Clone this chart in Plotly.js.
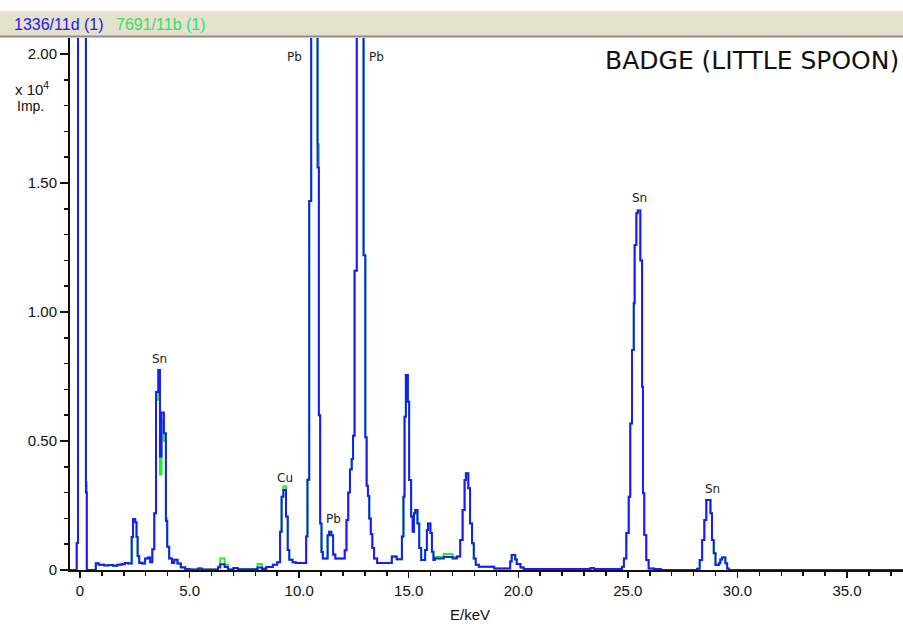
<!DOCTYPE html>
<html>
<head>
<meta charset="utf-8">
<script src="https://cdn.plot.ly/plotly-3.0.1.min.js"></script>
<style>
  html, body { margin: 0; padding: 0; background: #ffffff; }
  #chart { width: 903px; height: 624px; }
</style>
</head>
<body>
<div id="chart"></div>
<script>
// Energy (keV) at the left edge of each step of the spectrum
const energy = [
  -0.46, -0.15, -0.09, 0.27, 0.31, 0.72, 0.85, 1.1, 1.3, 1.5, 1.7, 1.9, 2.05, 2.2,
  2.36, 2.42, 2.52, 2.58, 2.63, 2.7, 2.85, 2.97, 3.1, 3.2, 3.3, 3.39, 3.47, 3.57,
  3.65, 3.72, 3.83, 3.92, 3.98, 4.07, 4.2, 4.3, 4.45, 4.6, 4.8, 5.0, 5.4, 5.55,
  6.3, 6.4, 6.6, 6.75, 7.0, 7.2, 8.1, 8.3, 8.5, 8.8, 9.0, 9.13, 9.2, 9.28, 9.4,
  9.48, 9.55, 9.7, 9.85, 10.32, 10.38, 10.46, 10.55, 10.84, 10.9, 10.96, 11.02,
  11.08, 11.3, 11.37, 11.47, 11.55, 11.65, 12.08, 12.16, 12.24, 12.32, 12.4, 12.46,
  12.53, 12.63, 12.94, 13.02, 13.08, 13.14, 13.2, 13.27, 13.34, 13.42, 13.56, 14.23,
  14.45, 14.69, 14.76, 14.81, 14.87, 14.96, 15.02, 15.11, 15.18, 15.24, 15.3, 15.4,
  15.48, 15.57, 15.75, 15.83, 15.88, 15.99, 16.06, 16.13, 16.2, 16.6, 17.0, 17.2,
  17.35, 17.46, 17.55, 17.61, 17.72, 17.8, 17.89, 17.97, 18.06, 18.2, 18.9, 19.63,
  19.7, 19.86, 19.93, 20.1, 20.25, 23.3, 23.45, 24.73, 24.82, 24.93, 25.04, 25.11,
  25.19, 25.27, 25.31, 25.39, 25.45, 25.57, 25.65, 25.69, 25.75, 25.84, 25.95, 26.2,
  26.5, 28.16, 28.28, 28.39, 28.49, 28.58, 28.77, 28.84, 28.92, 29.0, 29.15, 29.22,
  29.3, 29.45, 29.53, 29.6, 37.6
];

// Impulses (x 10^4), spectrum 1336/11d (1) - blue
const counts1336 = [
  0, 0.105, 5, 0.3, 0, 0.026, 0.02, 0.017, 0.019, 0.016, 0.02, 0.022, 0.027, 0.025,
  0.128, 0.198, 0.185, 0.128, 0.054, 0.027, 0.025, 0.045, 0.048, 0.03, 0.08, 0.22, 0.69, 0.775,
  0.44, 0.61, 0.53, 0.19, 0.09, 0.045, 0.027, 0.04, 0.025, 0.01, 0.004, 0.002, 0.006, 0.002,
  0.01, 0.022, 0.012, 0.002, 0.008, 0.003, 0.01, 0.004, 0.012, 0.02, 0.03, 0.148, 0.284, 0.31, 0.207,
  0.078, 0.04, 0.03, 0.027, 0.13, 0.35, 1.43, 5, 1.56, 0.6, 0.18, 0.07,
  0.045, 0.135, 0.148, 0.135, 0.06, 0.045, 0.077, 0.194, 0.3, 0.39, 0.43, 0.52,
  1.16, 5, 1.22, 0.515, 0.327, 0.287, 0.2, 0.14, 0.085, 0.045, 0.027, 0.052,
  0.042, 0.13, 0.284, 0.594, 0.756, 0.652, 0.349, 0.207, 0.148, 0.22, 0.233, 0.18,
  0.085, 0.039, 0.078, 0.155, 0.18, 0.143, 0.071, 0.039, 0.045, 0.05, 0.045, 0.052,
  0.116, 0.233, 0.349, 0.375, 0.317, 0.18, 0.104, 0.045, 0.02, 0.013, 0.006, 0.033,
  0.058, 0.041, 0.023, 0.01, 0.004, 0.008, 0.004, 0.013, 0.045, 0.143, 0.284, 0.568,
  0.853, 1.034, 1.26, 1.383, 1.393, 1.2, 0.71, 0.297, 0.136, 0.039, 0.006, 0.004,
  0, 0.005, 0.039, 0.116, 0.194, 0.271, 0.22, 0.116, 0.065, 0.019, 0.026, 0.041,
  0.048, 0.026, 0.006, 0, 0
];

// Impulses (x 10^4), spectrum 7691/11b (1) - green
const counts7691 = [
  0, 0.105, 5, 0.34, 0, 0.026, 0.02, 0.018, 0.019, 0.017, 0.02, 0.024, 0.027, 0.025,
  0.128, 0.198, 0.185, 0.128, 0.054, 0.03, 0.025, 0.045, 0.048, 0.03, 0.08, 0.22, 0.66, 0.69,
  0.37, 0.58, 0.5, 0.2, 0.09, 0.045, 0.03, 0.04, 0.025, 0.012, 0.004, 0.002, 0.006, 0.002,
  0.015, 0.045, 0.02, 0.002, 0.008, 0.003, 0.023, 0.008, 0.012, 0.02, 0.03, 0.148, 0.284, 0.325, 0.207,
  0.078, 0.04, 0.03, 0.027, 0.13, 0.35, 1.43, 5, 1.65, 0.6, 0.18, 0.07,
  0.045, 0.135, 0.148, 0.135, 0.06, 0.045, 0.077, 0.194, 0.3, 0.39, 0.43, 0.52,
  1.16, 5, 1.22, 0.515, 0.327, 0.287, 0.2, 0.14, 0.085, 0.045, 0.027, 0.052,
  0.042, 0.13, 0.284, 0.594, 0.756, 0.652, 0.349, 0.207, 0.148, 0.22, 0.233, 0.18,
  0.085, 0.039, 0.078, 0.155, 0.18, 0.143, 0.071, 0.039, 0.05, 0.062, 0.05, 0.052,
  0.116, 0.233, 0.349, 0.375, 0.317, 0.18, 0.104, 0.045, 0.02, 0.013, 0.006, 0.033,
  0.058, 0.041, 0.023, 0.01, 0.004, 0.008, 0.004, 0.013, 0.045, 0.143, 0.284, 0.568,
  0.853, 1.034, 1.26, 1.383, 1.393, 1.2, 0.71, 0.297, 0.136, 0.039, 0.006, 0.004,
  0, 0.005, 0.039, 0.116, 0.194, 0.271, 0.22, 0.116, 0.065, 0.019, 0.026, 0.041,
  0.048, 0.026, 0.006, 0, 0
];

// Element labels
const peakLabels = ["Pb", "Pb", "Sn", "Cu", "Pb", "Sn", "Sn"];
const peakLabelE = [9.77, 13.51, 3.65, 9.35, 11.55, 25.51, 28.84];
const peakLabelY = [1.988, 1.988, 0.818, 0.357, 0.198, 1.442, 0.314];

// Axis ticks
const xTickVals = [0, 5, 10, 15, 20, 25, 30, 35];
const xTickText = ["0", "5.0", "10.0", "15.0", "20.0", "25.0", "30.0", "35.0"];
const yTickVals = [0, 0.5, 1.0, 1.5, 2.0];
const yTickText = ["0", "0.50", "1.00", "1.50", "2.00"];

const seriesNames = ["1336/11d (1)", "7691/11b (1)"];
const chartTitle = "BADGE (LITTLE SPOON)";

const BLUE = "#1a1aff";
const GREEN = "#22ee22";
const tickFont = { family: "Liberation Sans, Arial, sans-serif", size: 15, color: "#111111" };

const traces = [
  { x: energy, y: counts7691, type: "scatter", mode: "lines", name: seriesNames[1],
    line: { shape: "hv", color: GREEN, width: 2 } },
  { x: energy, y: counts1336, type: "scatter", mode: "lines", name: seriesNames[0],
    line: { shape: "hv", color: BLUE, width: 2 } }
];

const annotations = [];
for (let i = 0; i < peakLabels.length; i++) {
  annotations.push({ x: peakLabelE[i], y: peakLabelY[i], xref: "x", yref: "y",
    text: peakLabels[i], showarrow: false, xanchor: "center", yanchor: "middle",
    font: { family: "DejaVu Sans, sans-serif", size: 12, color: "#1a1a1a" } });
}
// Title
annotations.push({ x: 0.9976, y: 0.9586, xref: "paper", yref: "paper", text: chartTitle,
  showarrow: false, xanchor: "right", yanchor: "middle",
  font: { family: "DejaVu Sans, sans-serif", size: 25, color: "#111111" } });
// Legend bar texts
annotations.push({ x: -0.0696, y: 1.0263, xref: "paper", yref: "paper", text: seriesNames[0],
  showarrow: false, xanchor: "left", yanchor: "middle",
  font: { family: "Liberation Sans, Arial, sans-serif", size: 16, color: "#2020e8" } });
annotations.push({ x: 0.053, y: 1.0263, xref: "paper", yref: "paper", text: seriesNames[1],
  showarrow: false, xanchor: "left", yanchor: "middle",
  font: { family: "Liberation Sans, Arial, sans-serif", size: 16, color: "#33e066" } });
// Y axis unit label
annotations.push({ x: -0.068, y: (570 - 88) / 532, xref: "paper", yref: "paper",
  text: "x 10<sup>4</sup>", showarrow: false, xanchor: "left", yanchor: "middle",
  font: { family: "Liberation Sans, Arial, sans-serif", size: 15, color: "#111111" } });
annotations.push({ x: -0.066, y: (570 - 106) / 532, xref: "paper", yref: "paper",
  text: "Imp.", showarrow: false, xanchor: "left", yanchor: "middle",
  font: { family: "Liberation Sans, Arial, sans-serif", size: 14, color: "#111111" } });
// X axis title
annotations.push({ x: (470 - 70) / 833, y: (570 - 614) / 532, xref: "paper", yref: "paper",
  text: "E/keV", showarrow: false, xanchor: "center", yanchor: "middle",
  font: { family: "Liberation Sans, Arial, sans-serif", size: 15, color: "#111111" } });

const shapes = [
  { type: "rect", xref: "paper", yref: "paper", x0: -0.1, x1: 1.1,
    y0: (570 - 37) / 532, y1: (570 - 11) / 532,
    fillcolor: "#e6e1cd", line: { width: 0 }, layer: "below" },
  { type: "line", xref: "paper", yref: "paper", x0: -0.1, x1: 1.1,
    y0: (570 - 36.5) / 532, y1: (570 - 36.5) / 532,
    line: { color: "#8c8c88", width: 2 } }
];

const layout = {
  width: 903, height: 624,
  margin: { l: 70, r: 0, t: 38, b: 54, pad: 0 },
  paper_bgcolor: "#ffffff", plot_bgcolor: "#ffffff",
  showlegend: false,
  xaxis: {
    range: [-0.456, 37.556], showgrid: false, zeroline: false,
    showline: true, linecolor: "#111111", linewidth: 2,
    ticks: "outside", ticklen: 6, tickwidth: 1.5, tickcolor: "#111111",
    tickmode: "array", tickvals: xTickVals, ticktext: xTickText, tickfont: tickFont,
    minor: { dtick: 1, tick0: 0, ticks: "outside", ticklen: 4, tickwidth: 1.5, tickcolor: "#111111", showgrid: false }
  },
  yaxis: {
    range: [0, 2.062], showgrid: false, zeroline: false,
    showline: true, linecolor: "#111111", linewidth: 2,
    ticks: "outside", ticklen: 8, tickwidth: 1.5, tickcolor: "#111111",
    tickmode: "array", tickvals: yTickVals, ticktext: yTickText, tickfont: tickFont,
    minor: { dtick: 0.1, tick0: 0, ticks: "outside", ticklen: 4, tickwidth: 1.5, tickcolor: "#111111", showgrid: false }
  },
  annotations: annotations,
  shapes: shapes
};

Plotly.newPlot("chart", traces, layout, { staticPlot: true, displayModeBar: false });
</script>
</body>
</html>
